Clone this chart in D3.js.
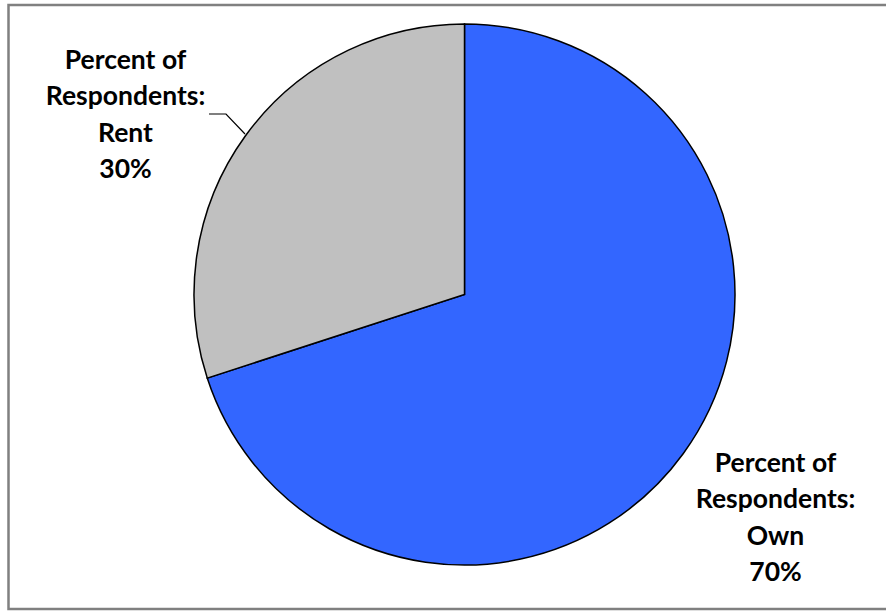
<!DOCTYPE html>
<html lang="en">
    <head>
        <meta charset="UTF-8" />
        <title>Own vs Rent</title>
        <script src="https://d3js.org/d3.v7.min.js"></script>
        <style>
            body { margin: 0; background: #fff; }
            .label { font-family: Lato, "Liberation Sans", sans-serif; font-weight: bold; font-size: 26.5px; fill: #000; }
        </style>
    </head>
    <body>
        <svg width="886" height="611"></svg>

        <script>
            const width = 886;
            const height = 611;

            // data
            const categories = ["Own", "Rent"];
            const values = [70, 30];
            const colors = ["#3366FF", "#C0C0C0"];
            const labelLines = [
                ["Percent of", "Respondents:", "Own", "70%"],
                ["Percent of", "Respondents:", "Rent", "30%"],
            ];

            const svg = d3.select("svg");

            // chart frame
            svg.append("rect")
                .attr("x", 8.5)
                .attr("y", 5)
                .attr("width", 890)
                .attr("height", 604)
                .attr("fill", "#fff")
                .attr("stroke", "#808080")
                .attr("stroke-width", 2.5);

            const cx = 464.5, cy = 294.5, r = 270.5;

            const pie = d3.pie().sort(null).value((d) => d.value);
            const arc = d3.arc().innerRadius(0).outerRadius(r);
            const data = categories.map((c, i) => ({ name: c, value: values[i] }));
            const arcs = pie(data);

            const g = svg.append("g").attr("transform", `translate(${cx},${cy})`);

            g.selectAll("path")
                .data(arcs)
                .enter()
                .append("path")
                .attr("d", arc)
                .attr("fill", (d, i) => colors[i])
                .attr("stroke", "#000")
                .attr("stroke-width", 1.5);

            // label positions (relative to pie centre)
            const labelPos = [
                { x: 311, y: 168 },
                { x: -339, y: -235 },
            ];
            const lineH = 36.5;

            labelLines.forEach((lines, i) => {
                const t = g.append("text")
                    .attr("class", "label")
                    .attr("text-anchor", "middle");
                lines.forEach((s, j) => {
                    t.append("tspan")
                        .attr("x", labelPos[i].x)
                        .attr("y", labelPos[i].y + j * lineH + 9)
                        .text(s);
                });
            });

            // leader line for Rent label
            const lp = d3.path();
            lp.moveTo(209 - cx, 114 - cy);
            lp.lineTo(226 - cx, 114 - cy);
            lp.lineTo(245 - cx, 134 - cy);
            g.append("path")
                .attr("d", lp.toString())
                .attr("fill", "none")
                .attr("stroke", "#000")
                .attr("stroke-width", 1.2);
        </script>
    </body>
</html>
